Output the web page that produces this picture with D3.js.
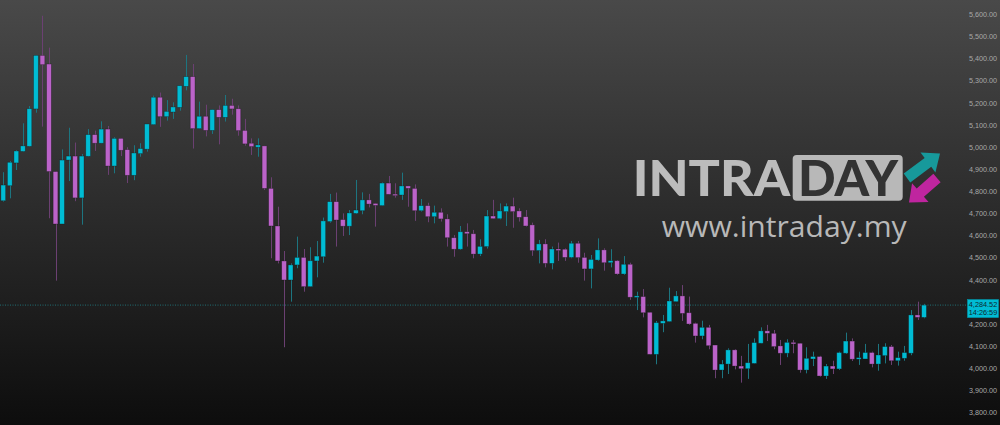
<!DOCTYPE html>
<html><head><meta charset="utf-8">
<script src="https://cdnjs.cloudflare.com/ajax/libs/d3/7.8.5/d3.min.js"></script>
<style>html,body{margin:0;padding:0;background:#111;overflow:hidden}</style>
</head><body><svg id="c" width="1000" height="425"></svg>
<script>
const openP = [4756,4824,4927,4979,5002,5171,5413,5374,4888,4651,4940,4958,4769,4957,5055,5016,5080,4913,5038,4987,4871,4969,4989,5100,5224,5136,5157,5178,5273,5317,5082,5138,5074,5168,5133,5187,5172,5074,5016,4998,5004,4812,4642,4484,4398,4466,4500,4368,4484,4503,4662,4752,4671,4641,4699,4711,4760,4744,4734,4836,4786,4782,4823,4812,4711,4734,4684,4704,4674,4589,4537,4616,4607,4515,4549,4687,4675,4707,4732,4710,4684,4647,4531,4561,4473,4538,4537,4500,4564,4500,4448,4488,4534,4476,4485,4425,4469,4320,4323,4252,4062,4202,4210,4300,4326,4250,4202,4145,4184,4104,3991,4018,4082,4009,3997,4021,4112,4168,4157,4100,4067,4116,4112,3991,4041,4052,3964,4009,3996,4067,4122,4040,4041,4070,4018,4056,4097,4033,4044,4067,4240,4229];
const highP = [4885,4936,4985,5106,5184,5413,5592,5448,4888,4988,5086,5019,4967,5080,5073,5115,5094,5043,5038,4998,5007,5016,5103,5231,5245,5211,5201,5276,5415,5374,5204,5190,5168,5187,5234,5217,5187,5126,5038,5038,5004,4862,4729,4529,4473,4594,4538,4546,4574,4680,4787,4793,4699,4714,4850,4794,4787,4744,4839,4868,4835,4883,4823,4830,4764,4747,4734,4722,4695,4601,4642,4654,4624,4582,4714,4760,4744,4744,4770,4722,4714,4657,4579,4582,4549,4567,4541,4574,4574,4521,4511,4586,4541,4537,4488,4506,4476,4345,4357,4252,4213,4240,4363,4348,4375,4323,4205,4214,4195,4104,4036,4089,4085,4055,4109,4134,4184,4195,4172,4127,4130,4127,4112,4094,4074,4055,4018,4033,4074,4160,4134,4074,4109,4074,4109,4112,4104,4074,4100,4262,4300,4290];
const lowP = [4752,4767,4895,4978,5001,5154,5091,4677,4395,4651,4845,4754,4648,4956,4981,5016,4873,4880,4958,4836,4849,4955,4978,5100,5090,5118,5126,5163,5255,4992,5082,5047,5058,5011,5114,5145,5050,5005,4963,4955,4805,4496,4473,4094,4300,4451,4345,4368,4410,4476,4657,4549,4597,4601,4696,4695,4726,4639,4734,4785,4770,4760,4729,4665,4707,4659,4654,4662,4549,4503,4534,4549,4496,4506,4540,4674,4672,4642,4634,4662,4639,4507,4473,4455,4446,4484,4484,4496,4476,4395,4360,4484,4440,4455,4421,4421,4308,4262,4229,4062,4017,4162,4210,4300,4213,4195,4115,4130,4085,3954,3954,3973,3994,3934,3951,4021,4112,4122,4085,4014,4049,4067,3979,3976,4009,3961,3951,3973,3991,4064,4032,4014,4041,4003,3988,4021,4014,4011,4033,4058,4217,4225];
const closeP = [4827,4930,4981,5004,5172,5413,5371,4888,4651,4940,4958,4769,4958,5055,5016,5080,4913,5038,4984,4871,4972,4992,5103,5224,5136,5160,5180,5276,5317,5082,5138,5074,5168,5133,5187,5171,5073,5013,5001,5008,4812,4642,4484,4398,4466,4500,4368,4485,4506,4665,4752,4669,4641,4701,4714,4760,4741,4735,4836,4785,4783,4823,4812,4711,4734,4684,4704,4674,4589,4537,4616,4607,4515,4550,4687,4675,4710,4732,4707,4681,4642,4531,4561,4473,4538,4535,4500,4564,4499,4448,4491,4534,4476,4485,4425,4469,4320,4326,4250,4062,4205,4213,4303,4326,4247,4199,4145,4184,4101,3991,4018,4082,4009,3997,4024,4115,4168,4157,4097,4067,4116,4109,3991,4044,4052,3964,4009,3996,4070,4122,4040,4047,4070,4018,4059,4097,4033,4047,4070,4240,4229,4284.52];
const yTicks = [3800,3900,4000,4100,4200,4300,4400,4500,4600,4700,4800,4900,5000,5100,5200,5300,5400,5500,5600];
const lastPrice = 4284.52;
const lastTime = "14:26:59";
const brandLeft = "INTRA", brandBox = "DAY", brandUrl = "www.intraday.my";

const W = 1000, H = 425;
const svg = d3.select("#c");
const defs = svg.append("defs");
const bg = defs.append("linearGradient").attr("id","bg").attr("x1",0).attr("y1",0).attr("x2",0).attr("y2",1);
bg.append("stop").attr("offset","0%").attr("stop-color","#494949");
bg.append("stop").attr("offset","100%").attr("stop-color","#0d0d0d");
svg.append("rect").attr("width",W).attr("height",H).attr("fill","url(#bg)");

const n = openP.length;
const data = d3.range(n).map(i => ({i, o:openP[i], h:highP[i], l:lowP[i], c:closeP[i]}));

const x = d3.scaleBand().domain(d3.range(n)).range([0, 927.3]).paddingInner(0.27).paddingOuter(0.135);
const y = d3.scaleLinear().domain([3800, 5600]).range([412.3, 14]);

const UP = "#00bcd4", DOWN = "#bb63c9", UPW = "#1d7580", DOWNW = "#6b4072";

// logo (behind candles)
const logo = svg.append("g");
logo.append("text").attr("x",632.7).attr("y",195.5).text(brandLeft)
  .attr("font-family","Lato, 'Open Sans', sans-serif").attr("font-weight",900).attr("font-size",49)
  .attr("fill","#bcbcbc").attr("textLength",157.5).attr("lengthAdjust","spacingAndGlyphs");
logo.append("rect").attr("x",792.7).attr("y",155).attr("width",110).attr("height",45.7).attr("rx",4).attr("fill","#b8b8b8");
logo.append("text").attr("x",798).attr("y",195.5).text(brandBox)
  .attr("font-family","Lato, 'Open Sans', sans-serif").attr("font-weight",900).attr("font-size",49)
  .attr("fill","#333333").attr("textLength",100).attr("lengthAdjust","spacingAndGlyphs");
logo.append("text").attr("x",661.7).attr("y",236.5).text(brandUrl)
  .attr("font-family","'Open Sans', Lato, sans-serif").attr("font-weight",400).attr("font-size",29.5)
  .attr("fill","#b8b8b8").attr("textLength",245).attr("lengthAdjust","spacingAndGlyphs");
function arrow(tx, ty, hx, hy, color){
  const dx = hx - tx, dy = hy - ty, L = Math.hypot(dx, dy), a = Math.atan2(dy, dx) * 180 / Math.PI;
  const hl = 15, sw = 5.5, hw = 12.5;
  const pts = [[0,-sw],[L-hl,-sw],[L-hl,-hw],[L,0],[L-hl,hw],[L-hl,sw],[0,sw]];
  logo.append("polygon").attr("points", pts.map(p=>p.join(",")).join(" "))
    .attr("transform",`translate(${tx},${ty}) rotate(${a})`).attr("fill",color);
}
arrow(907,178,940,153.5,"#17999b");
arrow(937,178,909,202.5,"#bf259f");

// dotted last price line
svg.append("line").attr("x1",0).attr("x2",966).attr("y1",y(lastPrice)).attr("y2",y(lastPrice))
  .attr("stroke","#1f6f74").attr("stroke-width",1).attr("stroke-dasharray","1,1.5");

// candles
const g = svg.append("g");
const cx = d => x(d.i) + x.bandwidth()/2;
g.selectAll("line.w").data(data).join("line")
  .attr("x1", d => Math.round(cx(d))+0.5).attr("x2", d => Math.round(cx(d))+0.5)
  .attr("y1", d => y(d.h)).attr("y2", d => y(d.l))
  .attr("stroke", d => d.c >= d.o ? UPW : DOWNW).attr("stroke-width",1);
g.selectAll("rect.b").data(data).join("rect")
  .attr("x", d => x(d.i)).attr("width", x.bandwidth())
  .attr("y", d => Math.min(y(d.o), y(d.c)))
  .attr("height", d => Math.max(1.5, Math.abs(y(d.o) - y(d.c))))
  .attr("fill", d => d.c >= d.o ? UP : DOWN)
  .attr("stroke","rgba(20,20,20,0.45)").attr("stroke-width",0.7);

// right axis labels
const axis = d3.axisRight(y).tickValues(yTicks).tickSize(0).tickPadding(0)
  .tickFormat(d => d3.format(",.2f")(d));
const ag = svg.append("g").attr("transform","translate(969,0)").call(axis);
ag.select(".domain").remove();
ag.selectAll("text").attr("fill","#a9a9a9").attr("font-family","'Liberation Sans', Arial, sans-serif").attr("font-size",7.2).attr("x",0).attr("dy","0.35em");

// last price label
const ly = y(lastPrice);
svg.append("rect").attr("x",967.5).attr("y",ly-5.5).attr("width",31).attr("height",18).attr("fill",UP).attr("stroke","#0097aa").attr("stroke-width",0.6);
svg.append("text").attr("x",983).attr("y",ly+1.8).attr("text-anchor","middle").text(d3.format(",.2f")(lastPrice))
  .attr("font-family","'Liberation Sans', Arial, sans-serif").attr("font-size",7.3).attr("fill","#0e2a30");
svg.append("text").attr("x",983).attr("y",ly+10.3).attr("text-anchor","middle").text(lastTime)
  .attr("font-family","'Liberation Sans', Arial, sans-serif").attr("font-size",7.3).attr("fill","#0e2a30");
</script></body></html>
